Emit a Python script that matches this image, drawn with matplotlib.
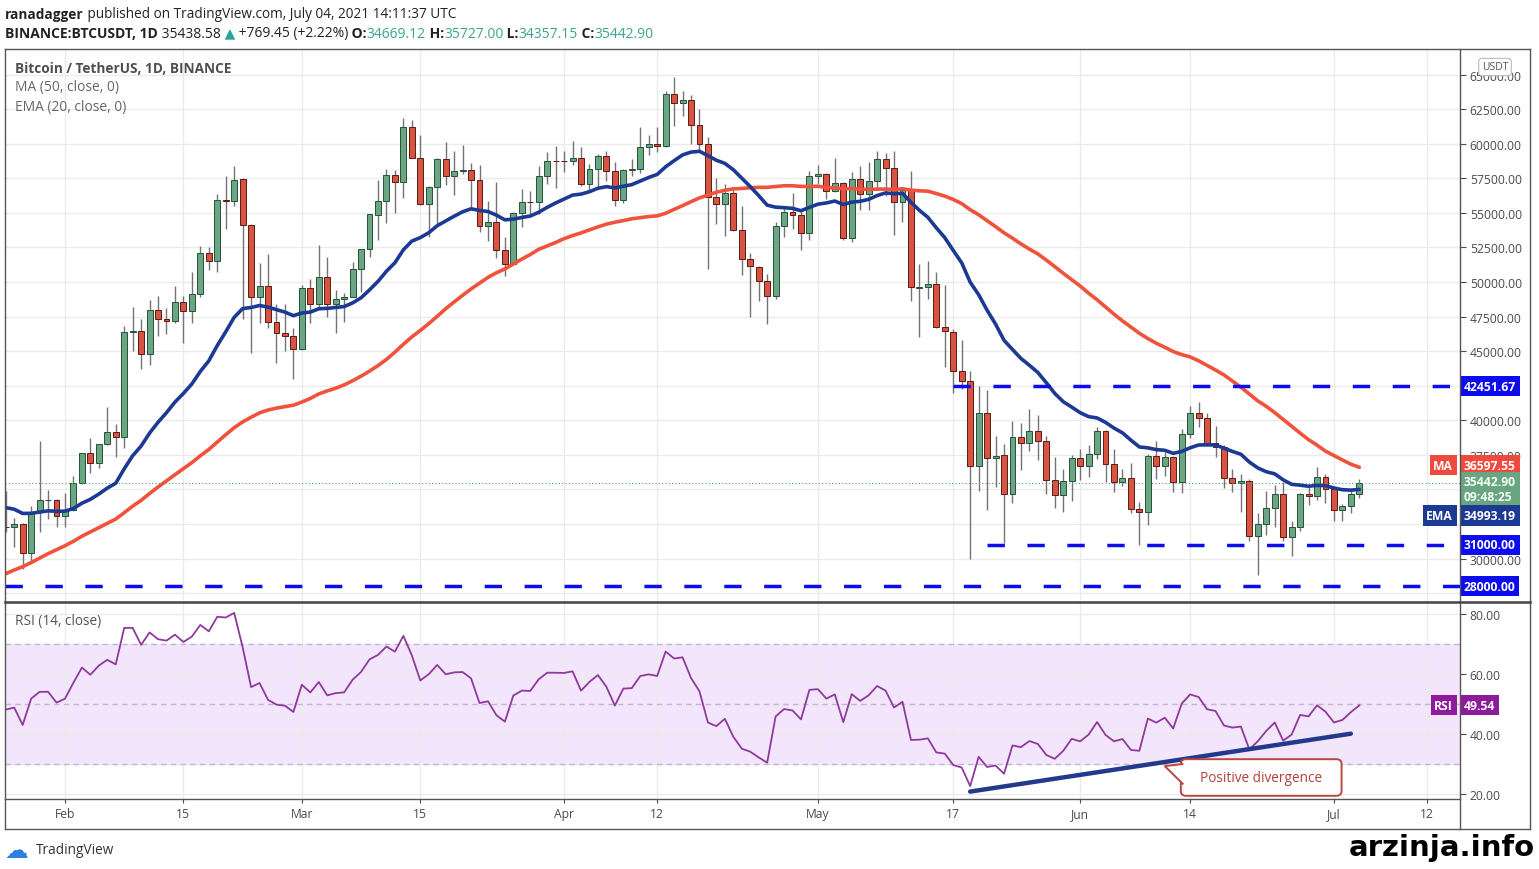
import matplotlib
matplotlib.use("Agg")
import matplotlib.pyplot as plt
import matplotlib.dates as mdates
from matplotlib.lines import Line2D
from matplotlib.patches import Polygon, FancyBboxPatch
import numpy as np
import pandas as pd

plt.rcParams['font.family'] = ['Open Sans', 'DejaVu Sans']

W, H = 1539, 870

# daily BTCUSDT candles, 2021-01-25 .. 2021-07-04
first_day = "2021-01-25"
opens = [
    32259, 32254, 32464, 30366, 33368, 34247, 34262,
    33092, 33517, 35472, 37620, 36936, 38289, 39181, 38795, 46374, 46420,
    44807, 47968, 47298, 47156, 48580, 47911, 49133, 52117, 51552, 55906,
    55842, 57412, 54087, 48892, 49677, 47073, 46277, 46103,
    45134, 49595, 48436, 50349, 48374, 48747, 48882, 50959, 52376, 54874,
    55851, 57773, 57222, 61188, 58976, 55605, 56900, 58912, 57642, 58030,
    58100, 57351, 54083, 54342, 52303, 51293, 55025, 55817, 55782, 57635, 58746,
    58739, 58720, 58950, 57051, 58203, 59130, 57991, 55953, 58077, 58142,
    59770, 60002, 59861, 63575, 62959, 63159, 61334, 60006, 56150, 55633,
    56425, 53787, 51690, 51110, 50047, 49004, 54021, 55034, 54825, 53556,
    57697, 57797, 56578, 57169, 53199, 57437, 56394, 57315, 58866, 58240,
    55816, 56670, 49538, 49671, 49845, 46716, 46416, 43538, 42849, 36671,
    40526, 37253, 37454, 34681, 38810, 38325, 39241, 38530, 35661, 34605, 35641,
    37253, 36694, 37568, 39246, 36829, 35516, 35796, 33556, 33380, 37389,
    36697, 37340, 35546, 39021, 40516, 40143, 38349, 38099, 35820, 35483,
    35600, 31614, 32510, 33675, 34663, 31577, 32283, 34702, 34494, 35911,
    35045, 33502, 33786, 34669.12,
]
highs = [
    34880, 32921, 32557, 33783, 38531, 34934, 34318,
    34718, 35984, 37662, 38708, 38310, 40955, 39700, 46794, 48200, 47310,
    48678, 48985, 48150, 49707, 49010, 50689, 52618, 52530, 56368, 57700,
    58352, 57508, 54183, 51374, 52041, 48424, 48395, 46638,
    49790, 50200, 52640, 51773, 49448, 49200, 51450, 52402, 54900, 57387,
    58150, 58081, 61844, 61724, 60633, 56938, 58980, 60100, 59450, 59880,
    58589, 58430, 55830, 57200, 53230, 55073, 56700, 56559, 58400, 59368, 59800,
    59490, 60200, 59791, 58500, 59251, 59474, 58650, 58153, 58894, 61218,
    60658, 61200, 63778, 64854, 63800, 63520, 62506, 60499, 57526, 57076,
    56757, 55521, 52131, 51166, 50567, 54356, 55400, 56428, 55200, 58000,
    58458, 57911, 58973, 57200, 57935, 58360, 58650, 59500, 59300, 59500,
    56862, 58000, 51330, 51488, 50700, 49800, 46575, 45799, 43547, 42451,
    42200, 38832, 38271, 39920, 39791, 40841, 40411, 38877, 37338, 36488, 37499,
    37895, 38225, 39476, 39289, 37925, 36480, 36900, 34068, 37534, 38491,
    37680, 37436, 39380, 41064, 41330, 40527, 39560, 38200, 36457, 36137,
    35750, 33298, 34881, 35298, 35500, 32700, 34749, 35297, 36600, 36100,
    35057, 33977, 34945, 35727,
]
lows = [
    31910, 30837, 29241, 29842, 31915, 32825, 32296,
    32296, 33418, 35362, 36161, 36570, 38215, 37351, 37988, 45000, 43727,
    43994, 46125, 46202, 47015, 45570, 47003, 48947, 50901, 50710, 53863,
    55477, 47300, 44892, 47003, 46674, 44106, 45000, 43000,
    45115, 47047, 48100, 47500, 46300, 47070, 48882, 49274, 51789, 53005,
    54270, 54962, 56078, 58966, 55543, 53271, 54124, 57023, 56257, 57820,
    55450, 53650, 53000, 51700, 50427, 51226, 53954, 54691, 54900, 57071, 56770,
    57935, 58428, 56955, 56478, 56817, 57333, 55473, 55700, 57654, 57903,
    59177, 59380, 59792, 61301, 62020, 60000, 59580, 50931, 54221, 53329,
    53695, 50500, 47500, 48657, 46930, 48753, 53222, 53813, 52330, 53013,
    57052, 56035, 56479, 53046, 52900, 55200, 55241, 56900, 56235, 53400,
    54370, 48600, 46000, 48800, 46650, 43825, 42001, 42250, 30000, 34850,
    33488, 35200, 31111, 34031, 36419, 37800, 37134, 34684, 33632, 33379, 34153,
    35666, 35920, 37170, 35555, 34800, 35258, 33300, 31000, 32397, 35782,
    35936, 34800, 34757, 38730, 39506, 38116, 37365, 35129, 34803, 33336,
    31251, 28805, 31683, 32286, 31275, 30151, 32000, 33862, 34225, 34017,
    32711, 32699, 33316, 34357,
]
closes = [
    32254, 32467, 30366, 33364, 34252, 34262, 33092,
    33526, 35466, 37618, 36936, 38290, 39186, 38795, 46374, 46420, 44807,
    47969, 47287, 47153, 48577, 47911, 49133, 52119, 51552, 55906, 55841,
    57408, 54087, 48891, 49676, 47073, 46276, 46106, 45135,
    49587, 48440, 50349, 48374, 48751, 48882, 50971, 52375, 54884, 55851,
    57773, 57221, 61188, 58968, 55605, 56900, 58912, 57648, 58030, 58102,
    57351, 54083, 54340, 52303, 51293, 55025, 55817, 55777, 57635, 58746, 58740,
    58720, 58950, 57051, 58202, 59130, 57991, 55948, 58077, 58143, 59770,
    60007, 59860, 63575, 62959, 63159, 61334, 60006, 56150, 55633, 56425,
    53787, 51690, 51125, 50047, 49004, 54021, 55033, 54824, 53555, 57694,
    57800, 56578, 57169, 53200, 57436, 56393, 57314, 58862, 58240, 55816,
    56670, 49631, 49670, 49841, 46708, 46426, 43538, 42849, 36691, 40526,
    37252, 37449, 34655, 38796, 38325, 39241, 38529, 35663, 34605, 35641, 37253,
    36693, 37568, 39246, 36829, 35514, 35796, 33552, 33380, 37388, 36675,
    37331, 35546, 39020, 40516, 40144, 38349, 38092, 35820, 35483, 35600,
    31608, 32509, 33678, 34663, 31584, 32283, 34700, 34494, 35911, 35045,
    33504, 33786, 34669.12, 35442.90,
]
# closes 2020-12-01 .. 2021-01-24, only used to warm up MA / EMA / RSI
warmup_closes = [
    18764, 19204, 19422, 18650, 19147, 19359, 19166, 18324, 18541, 18254,
    18036, 18808, 19175, 19273, 19426, 21335, 22797, 23107, 23821, 23455,
    22719, 23810, 23232, 23729, 24712, 26493, 26281, 27079, 27385, 28875, 28923,
    29331, 32178, 33000, 31988, 33949, 36769, 39432, 40582, 40088, 38150,
    35404, 34051, 37371, 39144, 36742, 35994, 35828, 36631, 35891, 35468,
    30850, 32945, 32078, 32259,
]

# horizontal levels drawn on the chart (start date, price)
levels = [("2021-05-17", 42451.67), ("2021-05-21", 31000.00), (None, 28000.00)]
last_price = 35442.90
last_ma = 36597.55
last_ema = 34993.19
last_rsi = 49.54
# divergence line on RSI: (date, rsi)
div_line = [("2021-05-19", 20.8), ("2021-07-03", 40.1)]

tick_dates = ["2021-02-01", "2021-02-15", "2021-03-01", "2021-03-15", "2021-04-01", "2021-04-12",
              "2021-05-01", "2021-05-17", "2021-06-01", "2021-06-14", "2021-07-01", "2021-07-12"]
tick_labels = ["Feb", "15", "Mar", "15", "Apr", "12", "May", "17", "Jun", "14", "Jul", "12"]
price_ticks = np.arange(27500, 65001, 2500)
hidden_price_ticks = [42500, 35000, 32500, 27500]   # covered by the price tags
rsi_ticks = [20, 40, 60, 80]

# ---- indicators
hist = pd.Series(warmup_closes + closes, dtype=float)
n0 = len(warmup_closes)
ma50 = hist.rolling(50).mean().to_numpy()[n0:]
ema20 = hist.ewm(span=20, adjust=False).mean().to_numpy()[n0:]
d = hist.diff()
gain = d.clip(lower=0).ewm(alpha=1 / 14, adjust=False).mean()
loss = (-d.clip(upper=0)).ewm(alpha=1 / 14, adjust=False).mean()
rsi = (100 - 100 / (1 + gain / loss)).to_numpy()[n0:]

dates = pd.date_range(first_day, periods=len(closes), freq="D")
x = mdates.date2num(dates)
o, h, l, c = map(np.asarray, (opens, highs, lows, closes))
up = c >= o

feb1 = mdates.date2num(pd.Timestamp("2021-02-01"))
xlim = (feb1 - 7.09, feb1 + 164.9)
tick_x = mdates.date2num(pd.to_datetime(tick_dates))

fig = plt.figure(figsize=(W / 100, H / 100), dpi=100)
ax = fig.add_axes([5 / W, 1 - 603 / H, 1455 / W, 553 / H])
axr = fig.add_axes([5 / W, 1 - 800 / H, 1455 / W, 197 / H])

GRID = "#ebebeb"
AXC = "#4d4d4d"

# ---- price panel
ax.vlines(x, l, h, color="#737375", lw=1, zorder=2)
ax.bar(x[up], (c - o)[up], bottom=o[up], width=0.7, color="#6ba583",
       edgecolor="#225437", lw=0.7, zorder=3)
ax.bar(x[~up], (c - o)[~up], bottom=o[~up], width=0.7, color="#d75442",
       edgecolor="#5b1a13", lw=0.7, zorder=3)
ax.plot(x, ma50, color="#f0533b", lw=2.6, zorder=4, solid_capstyle="round")
ax.plot(x, ema20, color="#1c3a94", lw=2.6, zorder=5, solid_capstyle="round")

ax.axhline(last_price, color="#4f9a6d", lw=0.8, ls=(0, (1, 2)), zorder=4)
for start, lev in levels:
    x0 = xlim[0] if start is None else mdates.date2num(pd.Timestamp(start))
    ax.hlines(lev, x0, xlim[1], colors="#0c0cef", lw=2.5,
              linestyles=(0, (5, 6.5)), zorder=6)

ax.set_xlim(*xlim)
ax.set_ylim(26855, 66850)
ax.set_yticks(price_ticks)
ax.yaxis.tick_right()
ax.yaxis.set_major_formatter(matplotlib.ticker.FuncFormatter(
    lambda v, pos: "" if round(v) in hidden_price_ticks else f"{v:.2f}"))
ax.tick_params(axis="y", length=4, color=AXC, labelcolor="#4a4a4a", labelsize=8.7, pad=3)
ax.set_xticks(tick_x)
ax.tick_params(axis="x", length=0, labelbottom=False)
ax.grid(True, color=GRID, lw=1)
ax.set_axisbelow(True)
for s in ax.spines.values():
    s.set_visible(False)


def tag(axis, y, text, bg, fg="white", name=None, dy=0, size=8.7):
    axis.annotate(text, xy=(1, y), xycoords=("axes fraction", "data"),
                  xytext=(4, dy), textcoords="offset pixels", ha="left", va="center",
                  fontsize=size, fontweight="bold", color=fg, annotation_clip=False,
                  bbox=dict(boxstyle="square,pad=0.3", fc=bg, ec="none"), zorder=10)
    if name:
        axis.annotate(name, xy=(1, y), xycoords=("axes fraction", "data"),
                      xytext=(-7, dy), textcoords="offset pixels", ha="right", va="center",
                      fontsize=size, fontweight="bold", color=fg, annotation_clip=False,
                      bbox=dict(boxstyle="square,pad=0.3", fc=bg, ec="none"), zorder=10)


for start, lev in levels:
    tag(ax, lev, f"{lev:.2f}", "#0c0cef")
tag(ax, last_ma, f"{last_ma:.2f}", "#ef4a3d", name="MA", dy=2)
tag(ax, last_price, f"{last_price:.2f}\n09:48:25", "#6aa582", fg="#f4fff6", dy=-6)
tag(ax, last_ema, f"{last_ema:.2f}", "#1c3a94", name="EMA", dy=-26)

# ---- RSI panel
axr.axhspan(30, 70, color="#f3e6fc", zorder=0)
for lev in (70, 50, 30):
    axr.axhline(lev, color="#c4b5cf", lw=1, ls=(0, (4, 3)), zorder=1)
axr.plot(x, rsi, color="#8e3a9c", lw=1.3, zorder=3)
dl_x = mdates.date2num(pd.to_datetime([p[0] for p in div_line]))
axr.plot(dl_x, [p[1] for p in div_line], color="#233a8c", lw=3.2, zorder=4,
         solid_capstyle="round")

# callout "Positive divergence"
bx0 = mdates.date2num(pd.Timestamp("2021-06-12")) + 0.9
bx1 = mdates.date2num(pd.Timestamp("2021-07-01")) + 0.9
by0, by1 = 19.4, 31.6
box = FancyBboxPatch((bx0, by0), bx1 - bx0, by1 - by0,
                     boxstyle="round,pad=0,rounding_size=0.6", mutation_aspect=2.8,
                     fc="white", ec="#b9473f", lw=1.4, zorder=6, clip_on=False)
axr.add_patch(box)
tip_x = mdates.date2num(pd.Timestamp("2021-06-11"))
ptr = Polygon([(bx0 + 0.3, 30.0), (tip_x, 29.3), (bx0 + 0.3, 23.2)], closed=False,
              fc="white", ec="#b9473f", lw=1.4, zorder=7, clip_on=False)
axr.add_patch(ptr)
axr.text((bx0 + bx1) / 2, (by0 + by1) / 2, "Positive divergence", ha="center", va="center",
         color="#b3403a", fontsize=9.8, zorder=8)

axr.set_xlim(*xlim)
axr.set_ylim(18.33, 84)
axr.set_yticks(rsi_ticks)
axr.yaxis.tick_right()
axr.yaxis.set_major_formatter(matplotlib.ticker.FormatStrFormatter("%.2f"))
axr.tick_params(axis="y", length=4, color=AXC, labelcolor="#4a4a4a", labelsize=8.7, pad=3)
axr.set_xticks(tick_x, tick_labels)
axr.tick_params(axis="x", length=3, color=AXC, labelcolor="#4a4a4a", labelsize=8.7, pad=3)
axr.grid(True, color=GRID, lw=1)
axr.set_axisbelow(True)
for s in axr.spines.values():
    s.set_visible(False)
tag(axr, last_rsi, f"{last_rsi:.2f}", "#8e1b9c", name="RSI")


# ---- frame
def fline(x0, y0, x1, y1, lw=1.0, color="#555555"):
    fig.add_artist(Line2D([x0 / W, x1 / W], [1 - y0 / H, 1 - y1 / H], transform=fig.transFigure,
                          lw=lw, color=color, zorder=20))


fline(5, 50, 1530, 50)
fline(5, 830, 1530, 830)
fline(5, 50, 5, 830)
fline(1530, 50, 1530, 830)
fline(1460, 50, 1460, 830)
fline(5, 603, 1530, 603, lw=1.8, color="#444444")
fline(5, 800, 1460, 800)

# ---- texts
renderer = fig.canvas.get_renderer()


def text_run(xp, yp, pieces, size):
    for s, color, weight in pieces:
        t = fig.text(xp / W, 1 - yp / H, s, fontsize=size, color=color, fontweight=weight,
                     ha="left", va="center")
        xp += t.get_window_extent(renderer).width


DARK = "#222222"
TEAL = "#3aa58f"
text_run(5, 15, [("ranadagger", DARK, "bold"),
                 (" published on TradingView.com, July 04, 2021 14:11:37 UTC", DARK, "normal")], 9.8)
text_run(5, 34, [("BINANCE:BTCUSDT, 1D", DARK, "bold"), (" 35438.58", DARK, "normal"),
                 (" \u25b2", "#26a69a", "normal"), (" +769.45 (+2.22%)", DARK, "normal"),
                 (" O:", DARK, "bold"), ("34669.12", TEAL, "normal"),
                 (" H:", DARK, "bold"), ("35727.00", TEAL, "normal"),
                 (" L:", DARK, "bold"), ("34357.15", TEAL, "normal"),
                 (" C:", DARK, "bold"), ("35442.90", TEAL, "normal")], 10)

fig.text(15 / W, 1 - 69 / H, "Bitcoin / TetherUS, 1D, BINANCE", fontsize=9.8, fontweight="bold",
         color="#4f4f4f", va="center")
fig.text(15 / W, 1 - 88 / H, "MA (50, close, 0)", fontsize=9.9, color="#666666", va="center")
fig.text(15 / W, 1 - 107 / H, "EMA (20, close, 0)", fontsize=9.9, color="#666666", va="center")
fig.text(15 / W, 1 - 622 / H, "RSI (14, close)", fontsize=9.8, color="#555555", va="center")
fig.text(1495 / W, 1 - 68 / H, "USDT", fontsize=7.5, color="#555555", ha="center", va="center",
         zorder=30, bbox=dict(boxstyle="round,pad=0.3", fc="white", ec="#bbbbbb", lw=0.8))

fig.text(5 / W, 1 - 851 / H, "\u2601", fontsize=17, color="#2f7fe0", va="center",
         family="DejaVu Sans")
fig.text(36 / W, 1 - 851 / H, "TradingView", fontsize=9.8, color="#333333", va="center")
fig.text(1535 / W, 1 - 856 / H, "arzinja.info", fontsize=21, fontweight="bold", color="black",
         ha="right", va="baseline", family="DejaVu Sans")

fig.savefig("out.png", dpi=100, facecolor="white")
